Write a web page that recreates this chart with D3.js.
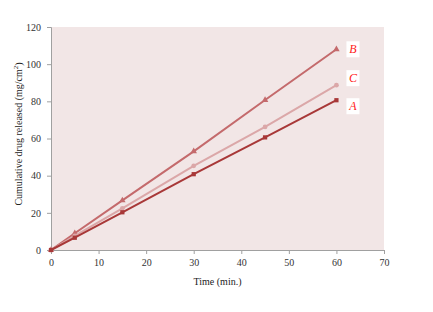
<!DOCTYPE html>
<html>
<head>
<meta charset="utf-8">
<script src="https://cdn.jsdelivr.net/npm/d3@7"></script>
<style>
  body { margin: 0; background: #fff; }
  svg { display: block; font-family: "Liberation Serif", "Times New Roman", serif; }
</style>
</head>
<body>
<div id="chart"></div>
<script>
// release data
const times = [0, 5, 15, 30, 45, 60];
const seriesA = [0, 6.6, 20.3, 40.8, 60.6, 80.6];
const seriesB = [0, 9, 26.7, 53.1, 80.7, 108];
const seriesC = [0, 7.6, 22.4, 45.3, 66.2, 88.7];
const xTicks = [0, 10, 20, 30, 40, 50, 60, 70];
const yTicks = [0, 20, 40, 60, 80, 100, 120];

const w = 433, h = 312;
const margin = {top: 27, right: 49, bottom: 62, left: 51};

const svg = d3.select('#chart').append('svg')
    .attr('width', w)
    .attr('height', h);

const x = d3.scaleLinear().domain([0, 70]).range([margin.left, w - margin.right]);
const y = d3.scaleLinear().domain([0, 120]).range([h - margin.bottom, margin.top]);

// plot background
svg.append('rect')
    .attr('x', x(0)).attr('y', y(120))
    .attr('width', x(70) - x(0)).attr('height', y(0) - y(120))
    .attr('fill', '#f2e6e6');

const xAxis = svg.append('g')
    .attr('transform', 'translate(0,' + y(0) + ')')
    .call(d3.axisBottom(x).tickValues(xTicks).tickSize(4).tickPadding(5));
const yAxis = svg.append('g')
    .attr('transform', 'translate(' + x(0) + ',0)')
    .call(d3.axisLeft(y).tickValues(yTicks).tickSize(4).tickPadding(6));

[xAxis, yAxis].forEach(function (g) {
    g.select('.domain').attr('stroke', '#a0a0a0');
    g.selectAll('.tick line').attr('stroke', '#a0a0a0');
    g.selectAll('.tick text')
        .attr('fill', '#333')
        .attr('font-size', 10)
        .attr('font-family', '"Liberation Serif", serif');
});

const series = [
    {name: 'B', values: seriesB, color: '#c46a6c', marker: d3.symbolTriangle, labelDy: 0},
    {name: 'C', values: seriesC, color: '#dba7a8', marker: d3.symbolCircle, labelDy: -7},
    {name: 'A', values: seriesA, color: '#a83838', marker: d3.symbolSquare, labelDy: 6}
];

const line = d3.line()
    .x(function (d) { return x(d[0]); })
    .y(function (d) { return y(d[1]); });

series.forEach(function (s) {
    const pts = times.map(function (t, i) { return [t, s.values[i]]; });
    svg.append('path')
        .datum(pts)
        .attr('fill', 'none')
        .attr('stroke', s.color)
        .attr('stroke-width', 2)
        .attr('d', line);
    svg.selectAll('.m' + s.name)
        .data(pts)
        .enter()
        .append('path')
        .attr('transform', function (d) { return 'translate(' + x(d[0]) + ',' + y(d[1]) + ')'; })
        .attr('d', d3.symbol().type(s.marker).size(18))
        .attr('fill', s.color);

    // end label with white box
    const last = pts[pts.length - 1];
    const lx = x(last[0]) + 11, ly = y(last[1]) + s.labelDy;
    svg.append('rect')
        .attr('x', lx - 1).attr('y', ly - 8)
        .attr('width', 13).attr('height', 16)
        .attr('fill', '#fff');
    svg.append('text')
        .attr('x', lx + 5.5).attr('y', ly + 4)
        .attr('text-anchor', 'middle')
        .attr('font-size', 12)
        .attr('font-style', 'italic')
        .attr('fill', '#ff2020')
        .text(s.name);
});

// axis titles
svg.append('text')
    .attr('x', (x(0) + x(70)) / 2)
    .attr('y', 285)
    .attr('text-anchor', 'middle')
    .attr('font-size', 10)
    .attr('fill', '#222')
    .text('Time (min.)');

svg.append('text')
    .attr('transform', 'translate(22,' + 134 + ') rotate(-90)')
    .attr('text-anchor', 'middle')
    .attr('font-size', 10)
    .attr('fill', '#222')
    .text('Cumulative drug released (mg/cm')
    .append('tspan').attr('dy', -4).attr('font-size', 7).text('2')
    .select(function () { return this.parentNode; })
    .append('tspan').attr('dy', 4).text(')');
</script>
</body>
</html>
